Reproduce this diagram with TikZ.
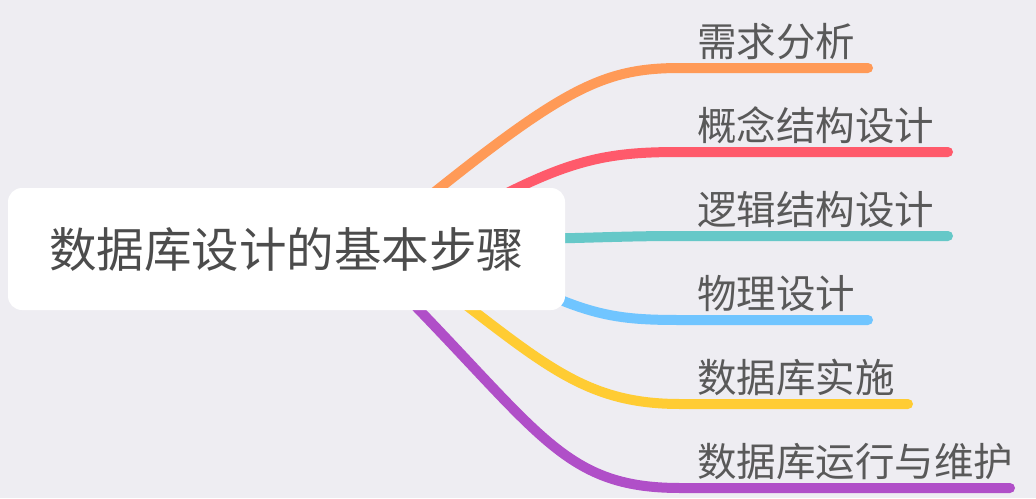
\documentclass[tikz,border=0pt]{standalone}
\usepackage{fontspec}
\newfontfamily\cjk{Noto Sans CJK SC}
\begin{document}
\begin{tikzpicture}[x=1pt,y=-1pt,
  br/.style={line width=10pt,line cap=round},
  lab/.style={anchor=south west,font=\cjk\fontsize{39.5}{42}\selectfont,text=black!65,inner sep=0pt}]
\definecolor{bg}{HTML}{EEEDF2}
\fill[bg] (0,0) rectangle (1036,498);
\useasboundingbox (0,0) rectangle (1036,498);
\definecolor{c1}{HTML}{FF9A57}\definecolor{c2}{HTML}{FF5A6B}\definecolor{c3}{HTML}{66C8C8}
\definecolor{c4}{HTML}{70C5FF}\definecolor{c5}{HTML}{FFCC33}\definecolor{c6}{HTML}{B04FC8}
\coordinate (s1) at (400,220);\coordinate (s2) at (440,230);\coordinate (s3) at (480,240);
\coordinate (s4) at (480,260);\coordinate (s5) at (420,270);\coordinate (s6) at (380,270);
\coordinate (m1) at (680,68);\coordinate (e1) at (868,68);
\coordinate (m2) at (680,152);\coordinate (e2) at (948,152);
\coordinate (m3) at (680,236);\coordinate (e3) at (948,236);
\coordinate (m4) at (680,320);\coordinate (e4) at (868,320);
\coordinate (m5) at (680,404);\coordinate (e5) at (908,404);
\coordinate (m6) at (680,488);\coordinate (e6) at (1010,488);
\draw[br,c1] (s1) .. controls (560,90) and (600,68) .. (m1) -- (e1);
\draw[br,c2] (s2) .. controls (560,160) and (600,152) .. (m2) -- (e2);
\draw[br,c3] (s3) .. controls (600,238) and (620,236) .. (m3) -- (e3);
\draw[br,c4] (s4) .. controls (580,315) and (610,320) .. (m4) -- (e4);
\draw[br,c5] (s5) .. controls (540,360) and (580,404) .. (m5) -- (e5);
\draw[br,c6] (s6) .. controls (540,430) and (560,488) .. (m6) -- (e6);
\node[fill=white,rounded corners=14pt,minimum width=557pt,minimum height=122pt,
  font=\cjk\fontsize{47.5}{50}\selectfont,text=black!70] (root) at (286.5,249) {数据库设计的基本步骤};
\node[lab] (l1) at (697,60) {需求分析};
\node[lab] (l2) at (697,144) {概念结构设计};
\node[lab] (l3) at (697,228) {逻辑结构设计};
\node[lab] (l4) at (697,312) {物理设计};
\node[lab] (l5) at (697,396) {数据库实施};
\node[lab] (l6) at (697,480) {数据库运行与维护};
\end{tikzpicture}
\end{document}
